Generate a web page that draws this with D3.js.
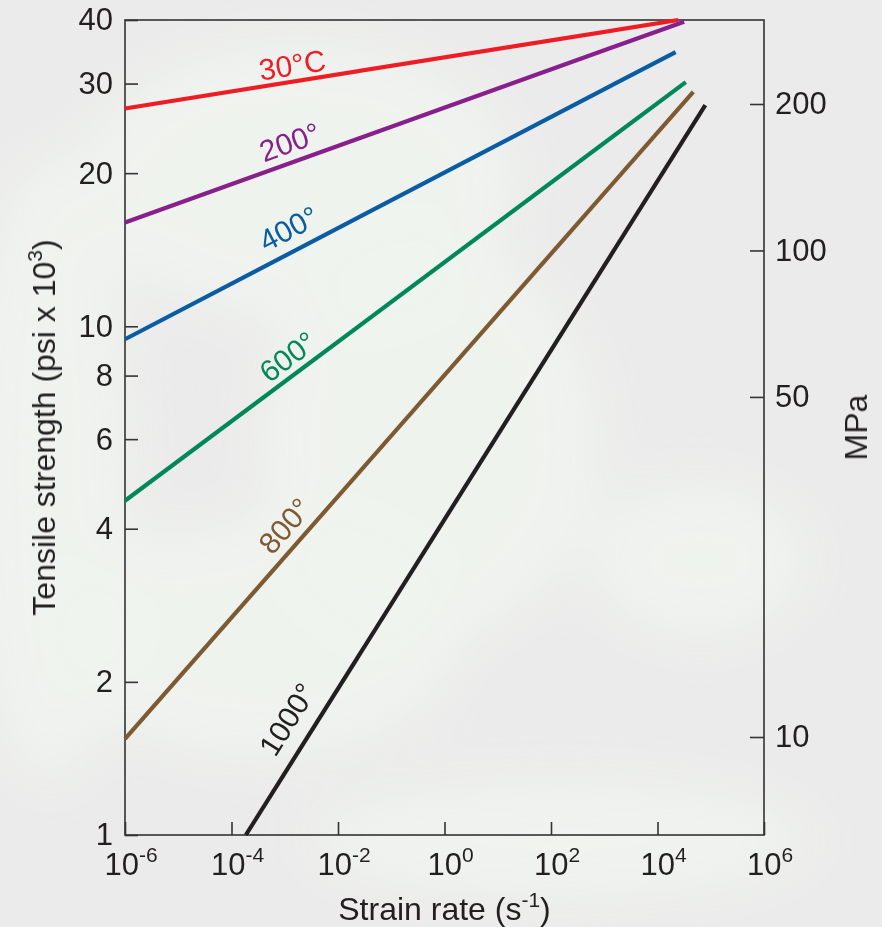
<!DOCTYPE html>
<html>
<head>
<meta charset="utf-8">
<script src="https://cdn.jsdelivr.net/npm/d3@7"></script>
<style>
body { margin: 0; background: #ebebeb; }
svg { display: block; font-family: "Liberation Sans", Arial, sans-serif; }
</style>
</head>
<body>
<svg id="chart" width="882" height="927"></svg>
<script>
// each curve is a straight line on log-log paper, given by its two end points
var temps = ['30°C', '200°', '400°', '600°', '800°', '1000°'];
var rateStart = [1e-6, 1e-6, 1e-6, 1e-6, 1e-6, 1.86e-4];       // strain rate, 1/s
var rateEnd = [2.45e4, 3.16e4, 2.19e4, 3.4e4, 4.7e4, 7.9e4];
var strengthStart = [26.8, 16.0, 9.43, 4.54, 1.545, 1.0];      // psi x 10^3
var strengthEnd = [40, 39.7, 34.6, 30.2, 28.9, 27.2];
var labelRate = [1.55e-3, 1.66e-3, 1.86e-3, 1.82e-3, 1.95e-3, 2.95e-3];

var psiTicks = [1, 2, 4, 6, 8, 10, 20, 30, 40];
var mpaTicks = [10, 50, 100, 200];
var rateExponents = [-6, -4, -2, 0, 2, 4, 6];

var colors = ['#ee1d25', '#88208c', '#0a5ca3', '#00885b', '#7d5a32', '#231f20'];
var labelGap = [6, 9.5, 12, 7.5, 10, 16];

var svg = d3.select('#chart');
var plotLeft = 125, plotRight = 764, plotTop = 20, plotBottom = 835;

// soft photo-like background
var defs = svg.append('defs');
defs.append('filter').attr('id', 'blur')
    .attr('x', '-50%').attr('y', '-50%').attr('width', '200%').attr('height', '200%')
    .append('feGaussianBlur').attr('stdDeviation', 30);
svg.append('rect').attr('width', 882).attr('height', 927).attr('fill', '#ebebeb');
var bg = svg.append('g').attr('filter', 'url(#blur)');
[[50, 470, 80, 320], [300, 180, 220, 140], [430, 440, 170, 200], [260, 640, 200, 120],
 [700, 560, 110, 80], [560, 840, 260, 60]].forEach(function (e) {
    bg.append('ellipse').attr('cx', e[0]).attr('cy', e[1]).attr('rx', e[2]).attr('ry', e[3])
        .attr('fill', '#f0f5ee').attr('opacity', 0.85);
});

var x = d3.scaleLog().domain([1e-6, 1e6]).range([plotLeft, plotRight]);
var y = d3.scaleLog().domain([1, 40]).range([plotBottom, plotTop]);
var yMpa = d3.scaleLog().domain([10, 200]).range([737, 104]);

// frame
svg.append('rect')
    .attr('x', plotLeft).attr('y', plotTop)
    .attr('width', plotRight - plotLeft).attr('height', plotBottom - plotTop)
    .attr('fill', 'none').attr('stroke', '#333').attr('stroke-width', 1.6);

var yAxis = svg.append('g')
    .attr('transform', 'translate(' + plotLeft + ',0)')
    .call(d3.axisLeft(y).tickValues(psiTicks).tickFormat(d3.format('d'))
        .tickSize(-13).tickSizeOuter(0).tickPadding(12));

var mpaAxis = svg.append('g')
    .attr('transform', 'translate(' + plotRight + ',0)')
    .call(d3.axisRight(yMpa).tickValues(mpaTicks).tickFormat(d3.format('d'))
        .tickSize(-14).tickSizeOuter(0).tickPadding(11));

var xAxis = svg.append('g')
    .attr('transform', 'translate(0,' + plotBottom + ')')
    .call(d3.axisBottom(x).tickValues(rateExponents.map(function (e) { return Math.pow(10, e); }))
        .tickSize(-13).tickSizeOuter(0).tickFormat(''));

[yAxis, mpaAxis, xAxis].forEach(function (a) {
    a.select('.domain').remove();
    a.selectAll('line').attr('stroke', '#333').attr('stroke-width', 1.6);
    a.selectAll('text').attr('font-size', 31).attr('fill', '#231f20')
        .attr('font-family', '"Liberation Sans", Arial, sans-serif');
});

// 10^n labels under the x axis
var xl = svg.append('g').attr('font-size', 31).attr('fill', '#231f20');
rateExponents.forEach(function (e) {
    var t = xl.append('text')
        .attr('x', x(Math.pow(10, e)) + 6)
        .attr('y', 875)
        .attr('text-anchor', 'middle');
    t.append('tspan').text('10');
    t.append('tspan').attr('dy', -13).attr('font-size', 21).text(e < 0 ? '-' + (-e) : e);
});

// curves
var line = d3.line()
    .x(function (d) { return x(d[0]); })
    .y(function (d) { return y(d[1]); });

temps.forEach(function (name, i) {
    var pts = [[rateStart[i], strengthStart[i]], [rateEnd[i], strengthEnd[i]]];
    svg.append('path')
        .attr('d', line(pts))
        .attr('fill', 'none')
        .attr('stroke', colors[i])
        .attr('stroke-width', 4.2);

    var x0 = x(pts[0][0]), y0 = y(pts[0][1]), x1 = x(pts[1][0]), y1 = y(pts[1][1]);
    var angle = Math.atan2(y1 - y0, x1 - x0) * 180 / Math.PI;
    var t = (Math.log(labelRate[i]) - Math.log(pts[0][0])) / (Math.log(pts[1][0]) - Math.log(pts[0][0]));
    var px = x0 + t * (x1 - x0), py = y0 + t * (y1 - y0);
    svg.append('text')
        .attr('transform', 'translate(' + px + ',' + py + ') rotate(' + angle + ')')
        .attr('y', -labelGap[i])
        .attr('text-anchor', 'middle')
        .attr('font-size', 30)
        .attr('fill', colors[i])
        .text(name);
});

// axis titles
svg.append('text')
    .attr('x', (plotLeft + plotRight) / 2)
    .attr('y', 920)
    .attr('text-anchor', 'middle')
    .attr('font-size', 32)
    .attr('fill', '#231f20')
    .call(function (t) {
        t.append('tspan').text('Strain rate (s');
        t.append('tspan').attr('dy', -13).attr('font-size', 21).text('-1');
        t.append('tspan').attr('dy', 13).text(')');
    });

svg.append('text')
    .attr('transform', 'translate(55,' + (plotTop + plotBottom) / 2 + ') rotate(-90)')
    .attr('text-anchor', 'middle')
    .attr('font-size', 32)
    .attr('fill', '#231f20')
    .call(function (t) {
        t.append('tspan').text('Tensile strength (psi x 10');
        t.append('tspan').attr('dy', -13).attr('font-size', 21).text('3');
        t.append('tspan').attr('dy', 13).text(')');
    });

svg.append('text')
    .attr('transform', 'translate(867,' + (plotTop + plotBottom) / 2 + ') rotate(-90)')
    .attr('text-anchor', 'middle')
    .attr('font-size', 32)
    .attr('fill', '#231f20')
    .text('MPa');
</script>
</body>
</html>
